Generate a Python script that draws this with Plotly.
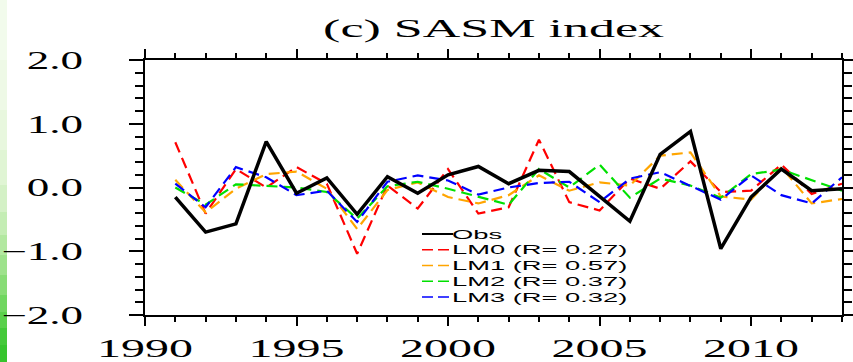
import plotly.graph_objects as go

# ---------------- data ----------------
years = [1991, 1992, 1993, 1994, 1995, 1996, 1997, 1998, 1999, 2000, 2001, 2002,
         2003, 2004, 2005, 2006, 2007, 2008, 2009, 2010, 2011, 2012, 2013]
obs = [-0.15, -0.70, -0.57, 0.72, -0.09, 0.15, -0.42, 0.17, -0.09, 0.20, 0.33, 0.06,
       0.27, 0.25, -0.14, -0.53, 0.52, 0.88, -0.96, -0.15, 0.29, -0.05, -0.02]
lm0 = [0.71, -0.41, 0.29, 0.00, 0.32, 0.06, -1.04, 0.03, -0.33, 0.29, -0.41, -0.31,
       0.75, -0.23, -0.36, 0.14, -0.02, 0.41, -0.07, -0.05, 0.36, -0.10, 0.06]
lm1 = [0.12, -0.39, -0.02, 0.21, 0.25, -0.02, -0.65, -0.04, 0.08, -0.15, -0.25, -0.12,
       0.19, -0.05, 0.08, 0.03, 0.50, 0.55, -0.14, -0.19, 0.32, -0.25, -0.18]
lm2 = [0.00, -0.27, 0.05, 0.03, 0.00, -0.07, -0.49, 0.02, 0.09, -0.02, -0.15, -0.27,
       0.29, 0.00, 0.36, -0.16, 0.14, 0.03, -0.16, 0.21, 0.28, 0.11, -0.05]
lm3 = [0.06, -0.31, 0.32, 0.16, -0.12, -0.05, -0.54, 0.09, 0.19, 0.11, -0.11, 0.00,
       0.07, 0.09, -0.23, 0.14, 0.24, 0.03, -0.19, 0.19, -0.12, -0.25, 0.16]

series_names = ["Obs", "LM0", "LM1", "LM2", "LM3"]
r_values = [None, 0.27, 0.57, 0.37, 0.32]
series_values = [obs, lm0, lm1, lm2, lm3]
series_colors = ["#000000", "#ff0000", "#ffa500", "#00e000", "#0000ff"]

x_tick_vals = [1990, 1995, 2000, 2005, 2010]
x_tick_text = ["1990", "1995", "2000", "2005", "2010"]
y_tick_vals = [-2, -1, 0, 1, 2]
y_tick_text = ["\u22122.0", "\u22121.0", "0.0", "1.0", "2.0"]
title_text = "(c) SASM index"

# ---------------- layout constants ----------------
W, H = 853, 362
ML, MR, MT, MB = 145, 11, 60, 47
PW, PH = W - ML - MR, H - MT - MB


def px_to_paper(px, py):
    return (px - ML) / PW, (H - MB - py) / PH


fig = go.Figure()

# model lines first, obs on top
for i in [1, 2, 3, 4, 0]:
    if i == 0:
        line = dict(color=series_colors[i], width=3.5)
    else:
        line = dict(color=series_colors[i], width=2.2, dash="11px,6px")
    fig.add_trace(go.Scatter(x=years, y=series_values[i], mode="lines",
                             line=line, name=series_names[i], showlegend=False))

shapes = []
annotations = []

# custom legend (tight row spacing as in the reference)
row_y0, row_dy = 234, 15.75
lx0, lx1 = 422, 453
for i, nm in enumerate(series_names):
    py = row_y0 + i * row_dy
    xa, ya = px_to_paper(lx0, py)
    xb, _ = px_to_paper(lx1, py)
    if i == 0:
        ln = dict(color=series_colors[i], width=2)
        label = nm
    else:
        ln = dict(color=series_colors[i], width=1.5, dash="11px,5px")
        label = f"{nm} (R= {r_values[i]:.2f})"
    shapes.append(dict(type="line", xref="paper", yref="paper", x0=xa, x1=xb,
                       y0=ya, y1=ya, line=ln))
    annotations.append(dict(xref="paper", yref="paper", x=xb, y=ya, text=label,
                            showarrow=False, xanchor="left", yanchor="middle",
                            align="left", xshift=-3,
                            font=dict(family="Liberation Sans", size=13, color="black",
                                      weight="normal")))

# green slide-background strip at the far left
strip_cols = ["#f2fbec", "#eef9e6", "#e8f7de", "#e0f5d4", "#d4f1c6", "#c4edb4",
              "#b2e8a0", "#9ee28c", "#88dc76", "#70d660", "#5ad04c", "#44c93a",
              "#36c42e"]
band_edges = [0, 60, 110, 150, 185, 212, 235, 255, 275, 295, 312, 328, 345, 362]
for k, col in enumerate(strip_cols):
    xa, ya = px_to_paper(0, band_edges[k])
    xb, yb = px_to_paper(7, band_edges[k + 1])
    shapes.append(dict(type="rect", xref="paper", yref="paper", x0=xa, x1=xb,
                       y0=yb, y1=ya, line=dict(width=0), fillcolor=col, layer="below"))

serif = "Liberation Serif"
axis_common = dict(showline=True, linewidth=2, linecolor="black", mirror="allticks",
                   ticks="outside", tickcolor="black", tickwidth=2,
                   showgrid=False, zeroline=False, automargin=False,
                   tickfont=dict(family=serif, size=25, color="black", weight="normal"))

fig.update_layout(
    width=W, height=H,
    margin=dict(l=ML, r=MR, t=MT, b=MB, pad=0, autoexpand=False),
    paper_bgcolor="white", plot_bgcolor="white",
    title=dict(text=title_text, x=0.5, xref="paper", xanchor="center",
               y=1 - 28 / H, yref="container", yanchor="middle", automargin=False,
               font=dict(family=serif, size=26, color="black", weight="normal")),
    xaxis=dict(range=[1990, 2013], tickmode="array", tickvals=x_tick_vals,
               ticktext=x_tick_text, ticklen=9, ticklabelstandoff=1,
               minor=dict(tickmode="linear", tick0=1990, dtick=1, ticks="outside",
                          ticklen=5, tickwidth=1.5, tickcolor="black", showgrid=False),
               **axis_common),
    yaxis=dict(range=[-2, 2], tickmode="array", tickvals=y_tick_vals,
               ticktext=y_tick_text, ticklen=14, ticklabelstandoff=20,
               minor=dict(tickmode="linear", tick0=-2, dtick=0.2, ticks="outside",
                          ticklen=8, tickwidth=1.5, tickcolor="black", showgrid=False),
               **axis_common),
    shapes=shapes,
    annotations=annotations,
)

# Page: no default body margin, so the figure sits at the window's top-left.
# The reference's lettering is drawn horizontally stretched; widen the glyphs.
# Each text is re-anchored at 'start' so the stretch direction is unambiguous,
# and its x is chosen so the original anchor (start / middle / end) is kept
# (plus an optional extra horizontal offset dx).
post = """
document.documentElement.style.margin = '0';
document.documentElement.style.overflow = 'hidden';
document.body.style.margin = '0';
document.body.style.padding = '0';
document.body.style.overflow = 'hidden';
var gd = document.getElementById('{plot_id}');
function stretch(sel, f, dx){
  gd.querySelectorAll(sel).forEach(function(t){
    var w = t.getComputedTextLength();
    if (!(w > 0)) return;
    var b0 = t.getBBox();
    var a = t.getAttribute('text-anchor') || window.getComputedStyle(t).textAnchor || 'start';
    var nw = w * f, nx;
    if (a === 'end') nx = b0.x + b0.width - nw;
    else if (a === 'middle') nx = b0.x + b0.width / 2 - nw / 2;
    else nx = b0.x;
    nx += dx;
    t.setAttribute('text-anchor', 'start');
    t.style.textAnchor = 'start';
    t.setAttribute('x', nx.toFixed(1));
    t.setAttribute('textLength', nw.toFixed(1));
    t.setAttribute('lengthAdjust', 'spacingAndGlyphs');
  });
}
stretch('.xtick text', 1.92, 0);
stretch('.ytick text', 1.8, -21);
stretch('text.gtitle', 2.0, 0);
stretch('text.annotation-text', 2.1, 0);
"""

fig.write_html("out.html", post_script=post,
               config={"displayModeBar": False, "responsive": False})
